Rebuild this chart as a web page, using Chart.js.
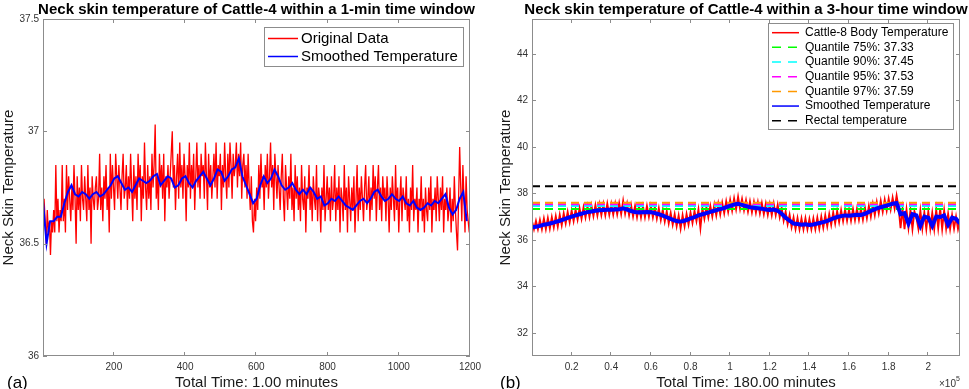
<!DOCTYPE html>
<html>
<head>
<meta charset="utf-8">
<script src="https://cdn.jsdelivr.net/npm/chart.js@4.4.1/dist/chart.umd.min.js"></script>
<style>
    body { margin: 0; background: #fff; }
    canvas { position: absolute; top: 0; }
    #chartLeft { left: 0; }
    #chartRight { left: 490px; }
</style>
</head>
<body>
<canvas id="chartLeft" width="490" height="389"></canvas>
<canvas id="chartRight" width="479" height="389"></canvas>
<script>
// ---- (a) 1-minute window, 1200 samples ----
const leftRawStep = 3;
const leftRaw = [
    36.55, 36.70, 36.60, 36.50, 36.65, 36.55, 36.60, 36.45, 36.60, 36.55,
    36.65, 36.55, 36.85, 36.60, 36.70, 36.55, 36.65, 36.60, 36.85, 36.60,
    36.70, 36.55, 36.85, 36.65, 36.80, 36.70, 36.60, 36.75, 36.65, 36.85,
    36.70, 36.50, 36.80, 36.65, 36.75, 36.60, 36.85, 36.70, 36.65, 36.80,
    36.70, 36.60, 36.85, 36.65, 36.75, 36.50, 36.80, 36.70, 36.65, 36.75,
    36.80, 36.65, 36.70, 36.90, 36.65, 36.75, 36.60, 36.80, 36.70, 36.85,
    36.65, 36.75, 36.55, 36.90, 36.70, 36.85, 36.75, 36.65, 36.90, 36.80,
    36.70, 36.85, 36.75, 36.65, 36.80, 36.90, 36.70, 36.75, 36.85, 36.65,
    36.80, 36.70, 36.90, 36.75, 36.60, 36.85, 36.70, 36.80, 36.65, 36.90,
    36.75, 36.85, 36.60, 36.80, 36.70, 36.95, 36.75, 36.65, 36.85, 36.70,
    36.80, 36.65, 36.90, 36.75, 36.85, 37.03, 36.70, 36.80, 36.65, 36.90,
    36.75, 36.85, 36.70, 36.90, 36.60, 36.80, 36.75, 36.85, 36.70, 36.80,
    36.90, 37.00, 36.75, 36.85, 36.65, 36.80, 36.90, 36.70, 36.95, 36.75,
    36.85, 36.70, 36.90, 36.80, 36.60, 36.85, 36.75, 36.95, 36.70, 36.85,
    36.75, 36.90, 36.65, 36.80, 36.95, 36.75, 36.85, 36.70, 36.90, 36.80,
    36.85, 36.70, 36.95, 36.80, 36.65, 36.90, 36.75, 36.85, 36.70, 36.80,
    36.90, 36.75, 36.95, 36.70, 36.85, 36.80, 36.90, 36.65, 36.85, 36.75,
    36.95, 36.80, 36.70, 36.90, 36.75, 36.95, 36.85, 36.70, 36.90, 36.80,
    36.85, 36.95, 36.75, 36.90, 36.80, 36.95, 36.70, 36.85, 36.90, 36.75,
    36.85, 36.70, 36.90, 36.75, 36.65, 36.80, 36.60, 36.55, 36.70, 36.60,
    36.75, 36.65, 36.85, 36.70, 36.90, 36.75, 36.80, 36.65, 36.85, 36.75,
    36.90, 36.70, 36.80, 36.95, 36.75, 36.85, 36.65, 36.90, 36.80, 36.70,
    36.85, 36.75, 36.65, 36.80, 36.90, 36.70, 36.60, 36.85, 36.75, 36.65,
    36.80, 36.70, 36.90, 36.65, 36.75, 36.60, 36.85, 36.70, 36.80, 36.65,
    36.75, 36.60, 36.85, 36.70, 36.65, 36.80, 36.55, 36.75, 36.70, 36.85,
    36.65, 36.75, 36.60, 36.80, 36.70, 36.65, 36.85, 36.60, 36.75, 36.70,
    36.55, 36.75, 36.65, 36.85, 36.60, 36.70, 36.80, 36.65, 36.75, 36.60,
    36.80, 36.65, 36.70, 36.85, 36.60, 36.75, 36.65, 36.80, 36.55, 36.75,
    36.70, 36.60, 36.85, 36.65, 36.75, 36.55, 36.80, 36.70, 36.60, 36.75,
    36.65, 36.80, 36.55, 36.70, 36.85, 36.60, 36.75, 36.65, 36.80, 36.70,
    36.60, 36.75, 36.85, 36.65, 36.70, 36.80, 36.60, 36.75, 36.65, 36.85,
    36.70, 36.80, 36.60, 36.75, 36.85, 36.65, 36.75, 36.60, 36.80, 36.70,
    36.75, 36.60, 36.80, 36.70, 36.55, 36.75, 36.65, 36.80, 36.70, 36.60,
    36.85, 36.65, 36.75, 36.55, 36.70, 36.80, 36.60, 36.75, 36.70, 36.65,
    36.80, 36.60, 36.70, 36.55, 36.75, 36.65, 36.85, 36.60, 36.70, 36.65,
    36.75, 36.55, 36.70, 36.65, 36.80, 36.60, 36.70, 36.55, 36.75, 36.65,
    36.60, 36.75, 36.65, 36.80, 36.55, 36.70, 36.65, 36.75, 36.60, 36.80,
    36.70, 36.60, 36.75, 36.65, 36.80, 36.55, 36.70, 36.65, 36.75, 36.60,
    36.65, 36.75, 36.55, 36.70, 36.60, 36.80, 36.65, 36.55, 36.47, 36.70,
    36.93, 36.75, 36.60, 36.85, 36.70, 36.55, 36.80, 36.65, 36.60, 36.55
];
const leftSmoothStep = 10;
const leftSmooth = [
    36.69, 36.50, 36.60, 36.60, 36.62, 36.62, 36.68, 36.73, 36.76, 36.72,
    36.71, 36.73, 36.72, 36.70, 36.72, 36.73, 36.71, 36.72, 36.74, 36.76,
    36.79, 36.80, 36.77, 36.74, 36.75, 36.73, 36.76, 36.79, 36.78, 36.77,
    36.78, 36.80, 36.81, 36.76, 36.78, 36.80, 36.79, 36.75, 36.76, 36.79,
    36.80, 36.77, 36.75, 36.78, 36.80, 36.82, 36.79, 36.76, 36.79, 36.83,
    36.82, 36.78, 36.80, 36.83, 36.84, 36.88, 36.80, 36.76, 36.72, 36.68,
    36.70, 36.76, 36.80, 36.77, 36.79, 36.83, 36.80, 36.76, 36.74, 36.75,
    36.77, 36.74, 36.72, 36.74, 36.72, 36.75, 36.73, 36.70, 36.71, 36.67,
    36.68, 36.70, 36.69, 36.71, 36.69, 36.67, 36.66, 36.65, 36.67, 36.69,
    36.70, 36.68, 36.70, 36.73, 36.74, 36.71, 36.69, 36.70, 36.72, 36.70,
    36.69, 36.71, 36.68, 36.67, 36.69, 36.66, 36.65, 36.66, 36.68, 36.67,
    36.69, 36.68, 36.70, 36.72, 36.66, 36.63, 36.65, 36.70, 36.73, 36.60
];
const leftXTicks = [200, 400, 600, 800, 1000, 1200];
const leftYTicks = [36, 36.5, 37, 37.5];

// ---- (b) 3-hour window, 216000 samples ----
const rightRawStep = 1000;
const rightRaw = [
    36.80, 36.45, 36.82, 36.45, 36.86, 36.45, 36.92, 36.46, 36.94, 36.48,
    36.98, 36.53, 37.02, 36.56, 37.08, 36.62, 37.14, 36.70, 37.20, 36.75,
    37.26, 36.80, 37.30, 36.86, 37.36, 36.90, 37.40, 36.96, 37.45, 36.98,
    37.48, 37.02, 37.50, 37.04, 37.53, 37.06, 37.54, 37.06, 37.56, 37.07,
    37.55, 37.08, 37.56, 37.09, 37.58, 37.10, 37.68, 37.12, 37.56, 37.05,
    37.50, 37.00, 37.46, 36.97, 37.44, 36.96, 37.45, 36.97, 37.46, 36.98,
    37.45, 36.96, 37.41, 36.91, 37.36, 36.85, 37.30, 36.78, 37.23, 36.70,
    37.16, 36.65, 37.10, 36.58, 37.05, 36.48, 37.06, 36.58, 37.11, 36.66,
    37.18, 36.72, 37.24, 36.80, 37.31, 36.50, 37.36, 36.90, 37.41, 36.96,
    37.46, 36.99, 37.52, 37.05, 37.56, 37.09, 37.60, 37.14, 37.66, 37.20,
    37.72, 37.25, 37.78, 37.31, 37.85, 37.32, 37.76, 37.27, 37.70, 37.21,
    37.66, 37.18, 37.64, 37.16, 37.62, 37.13, 37.58, 37.10, 37.56, 37.07,
    37.54, 37.06, 37.56, 37.06, 37.51, 36.97, 37.38, 36.82, 37.21, 36.67,
    37.08, 36.54, 36.96, 36.46, 36.94, 36.45, 36.92, 36.45, 36.93, 36.45,
    36.90, 36.45, 36.92, 36.45, 36.96, 36.48, 37.00, 36.52, 37.06, 36.58,
    37.11, 36.64, 37.18, 36.70, 37.24, 36.76, 37.28, 36.80, 37.30, 36.82,
    37.30, 36.82, 37.32, 36.84, 37.34, 36.86, 37.33, 36.86, 37.40, 36.92,
    37.46, 36.99, 37.54, 37.06, 37.62, 37.14, 37.68, 37.20, 37.73, 37.25,
    37.77, 37.30, 37.82, 37.34, 37.90, 37.38, 36.50, 37.32, 36.46, 37.30,
    36.52, 37.28, 36.46, 37.22, 36.95, 36.47, 37.26, 36.48, 37.18, 36.46,
    37.22, 36.48, 37.16, 36.46, 37.30, 36.50, 37.35, 36.46, 37.26, 36.48,
    37.12, 36.46, 37.06, 36.48, 37.00, 36.46, 36.85
];
const rightSmoothStep = 2000;
const rightSmooth = [
    36.54, 36.56, 36.60, 36.65, 36.68, 36.72, 36.77, 36.82, 36.88, 36.94,
    37.00, 37.05, 37.10, 37.15, 37.19, 37.22, 37.25, 37.27, 37.28, 37.29,
    37.29, 37.30, 37.31, 37.35, 37.30, 37.24, 37.20, 37.18, 37.19, 37.20,
    37.19, 37.15, 37.10, 37.04, 36.97, 36.90, 36.83, 36.79, 36.80, 36.85,
    36.92, 36.98, 37.05, 37.10, 37.15, 37.20, 37.25, 37.30, 37.34, 37.40,
    37.46, 37.52, 37.55, 37.50, 37.45, 37.40, 37.38, 37.36, 37.34, 37.30,
    37.28, 37.30, 37.25, 37.12, 36.95, 36.82, 36.70, 36.68, 36.65, 36.67,
    36.64, 36.66, 36.70, 36.74, 36.78, 36.85, 36.92, 36.98, 37.02, 37.05,
    37.04, 37.06, 37.08, 37.07, 37.12, 37.20, 37.28, 37.35, 37.40, 37.45,
    37.50, 37.55, 37.58, 37.10, 37.15, 36.70, 37.10, 37.05, 36.60, 37.00,
    36.95, 36.60, 37.00, 36.98, 37.05, 36.65, 36.95, 36.90, 36.70
];
const quantileNames = ['Quantile 75%', 'Quantile 90%', 'Quantile 95%', 'Quantile 97%'];
const quantileValues = [37.33, 37.45, 37.53, 37.59];
const quantileColors = ['#00ff00', '#00ffff', '#ff00ff', '#ff9900'];
const rectalTemp = 38.3;
const rightXTicks = [20000, 40000, 60000, 80000, 100000, 120000, 140000, 160000, 180000, 200000];
const rightYTicks = [32, 34, 36, 38, 40, 42, 44];

const FONT = "'Liberation Sans', Arial, Helvetica, sans-serif";

// MATLAB style box with inward ticks on all four sides, plus title and loose text
const matlabAxes = {
    id: 'matlabAxes',
    afterDatasetsDraw(chart, args, opts) {
        const { ctx, chartArea: a, scales } = chart;
        ctx.save();
        ctx.strokeStyle = '#8c8c8c';
        ctx.lineWidth = 1;
        ctx.strokeRect(Math.round(a.left) + 0.5, Math.round(a.top) + 0.5,
            Math.round(a.right - a.left) - 1, Math.round(a.bottom - a.top) - 1);
        const len = 4;
        ctx.beginPath();
        scales.x.ticks.forEach(t => {
            const px = Math.round(scales.x.getPixelForValue(t.value)) - 0.5;
            ctx.moveTo(px, a.bottom); ctx.lineTo(px, a.bottom - len);
            ctx.moveTo(px, a.top); ctx.lineTo(px, a.top + len);
        });
        scales.y.ticks.forEach(t => {
            const py = Math.round(scales.y.getPixelForValue(t.value)) + 0.5;
            ctx.moveTo(a.left, py); ctx.lineTo(a.left + len, py);
            ctx.moveTo(a.right, py); ctx.lineTo(a.right - len, py);
        });
        ctx.stroke();

        ctx.fillStyle = '#000';
        ctx.textBaseline = 'middle';
        ctx.textAlign = 'center';
        ctx.font = 'bold 15px ' + FONT;
        ctx.fillText(opts.title, (a.left + a.right) / 2, 9.5);

        ctx.textAlign = 'left';
        ctx.font = '17px ' + FONT;
        ctx.fillText(opts.tag, opts.tagX, 383);
        if (opts.exponent) {
            ctx.fillStyle = '#333';
            ctx.font = '10px ' + FONT;
            ctx.fillText('\u00d710', a.right - 21, 384);
            ctx.font = '7px ' + FONT;
            ctx.fillText('5', a.right - 4, 379);
        }
        ctx.restore();
    }
};

// legend drawn inside the axes, top right, like MATLAB
const boxLegend = {
    id: 'boxLegend',
    afterDraw(chart, args, o) {
        const ctx = chart.ctx;
        ctx.save();
        ctx.fillStyle = '#fff';
        ctx.fillRect(o.x, o.y, o.w, o.h);
        ctx.strokeStyle = '#8c8c8c';
        ctx.lineWidth = 1;
        ctx.strokeRect(o.x + 0.5, o.y + 0.5, o.w, o.h);
        ctx.font = o.size + 'px ' + FONT;
        ctx.textBaseline = 'middle';
        chart.data.datasets.forEach((ds, i) => {
            const cy = o.firstRow + i * o.rowH;
            ctx.strokeStyle = ds.borderColor;
            ctx.lineWidth = 1.5;
            ctx.setLineDash(ds.borderDash ? [9, 7] : []);
            ctx.beginPath();
            ctx.moveTo(o.lineX, cy);
            ctx.lineTo(o.lineX + o.lineLen, cy);
            ctx.stroke();
            ctx.setLineDash([]);
            ctx.fillStyle = '#000';
            ctx.fillText(ds.label, o.textX, cy);
        });
        ctx.restore();
    }
};

function axisOpts(min, max, tickValues, fmt, title, width, height) {
    return {
        x: {
            type: 'linear', min: min[0], max: max[0],
            grid: { display: false, drawTicks: false },
            border: { display: false },
            afterBuildTicks: s => { s.ticks = tickValues[0].map(v => ({ value: v })); },
            afterFit: s => { s.height = height; },
            ticks: { color: '#333', font: { family: FONT, size: 10 }, padding: 5, maxRotation: 0, autoSkip: false, callback: fmt },
            title: { display: true, text: title[0], color: '#1a1a1a', font: { family: FONT, size: 15, lineHeight: 1 }, padding: { top: 0, bottom: -1 } }
        },
        y: {
            type: 'linear', min: min[1], max: max[1],
            grid: { display: false, drawTicks: false },
            border: { display: false },
            afterBuildTicks: s => { s.ticks = tickValues[1].map(v => ({ value: v })); },
            afterFit: s => { s.width = width; },
            ticks: { color: '#333', font: { family: FONT, size: 10 }, padding: 4, callback: v => String(v) },
            title: { display: true, text: title[1], color: '#1a1a1a', font: { family: FONT, size: 15, lineHeight: 1.2 }, padding: { top: 0, bottom: 0 } }
        }
    };
}

function leftChart() {
    new Chart(document.getElementById('chartLeft'), {
        type: 'line',
        data: {
            datasets: [{
                label: 'Original Data',
                data: leftRaw.map((v, i) => ({ x: 1 + i * leftRawStep, y: v })),
                borderColor: '#ff0000', borderWidth: 1.3, order: 1
            }, {
                label: 'Smoothed Temperature',
                data: leftSmooth.map((v, i) => ({ x: 1 + i * leftSmoothStep, y: v })),
                borderColor: '#0000ff', borderWidth: 2, order: 0
            }]
        },
        options: {
            responsive: false, animation: false,
            elements: { point: { radius: 0 }, line: { tension: 0 } },
            layout: { padding: { left: 0, right: 20, top: 19, bottom: 0 } },
            scales: axisOpts([1, 36], [1200, 37.5], [leftXTicks, leftYTicks], v => String(v),
                ['Total Time: 1.00 minutes', 'Neck Skin Temperature'], 43, 33),
            plugins: {
                legend: { display: false },
                tooltip: { enabled: false },
                title: { display: false },
                matlabAxes: { title: 'Neck skin temperature of Cattle-4 within a 1-min time window', tag: '(a)', tagX: 7 },
                boxLegend: { x: 264, y: 27, w: 199, h: 39, firstRow: 38.5, rowH: 18, lineX: 268, lineLen: 30, textX: 301, size: 15 }
            }
        },
        plugins: [matlabAxes, boxLegend]
    });
}

function rightChart() {
    const last = (rightSmooth.length - 1) * rightSmoothStep;
    const flat = v => [{ x: 0, y: v }, { x: last, y: v }];
    const datasets = [{
        label: 'Cattle-8 Body Temperature',
        data: rightRaw.map((v, i) => ({ x: i * rightRawStep, y: v })),
        borderColor: '#ff0000', borderWidth: 1.8, order: 6
    }];
    quantileValues.forEach((q, i) => {
        datasets.push({
            label: quantileNames[i] + ': ' + q.toFixed(2),
            data: flat(q), borderColor: quantileColors[i], borderWidth: 2,
            borderDash: [8, 5], order: 5 - i
        });
    });
    datasets.push({
        label: 'Smoothed Temperature',
        data: rightSmooth.map((v, i) => ({ x: i * rightSmoothStep, y: v })),
        borderColor: '#0000ff', borderWidth: 4, order: 1
    });
    datasets.push({
        label: 'Rectal temperature',
        data: flat(rectalTemp), borderColor: '#000000', borderWidth: 2,
        borderDash: [8, 5], order: 0
    });

    new Chart(document.getElementById('chartRight'), {
        type: 'line',
        data: { datasets: datasets },
        options: {
            responsive: false, animation: false,
            elements: { point: { radius: 0 }, line: { tension: 0 } },
            layout: { padding: { left: 7, right: 9, top: 19, bottom: 0 } },
            scales: axisOpts([0, 31], [216000, 45.5], [rightXTicks, rightYTicks], v => String(v / 1e5),
                ['Total Time: 180.00 minutes', 'Neck Skin Temperature'], 35, 33),
            plugins: {
                legend: { display: false },
                tooltip: { enabled: false },
                title: { display: false },
                matlabAxes: { title: 'Neck skin temperature of Cattle-4 within a 3-hour time window', tag: '(b)', tagX: 10, exponent: true },
                boxLegend: { x: 278, y: 23, w: 185, h: 106, firstRow: 32.7, rowH: 14.67, lineX: 282, lineLen: 27, textX: 315, size: 12 }
            }
        },
        plugins: [matlabAxes, boxLegend]
    });
}

leftChart();
rightChart();
</script>
</body>
</html>
